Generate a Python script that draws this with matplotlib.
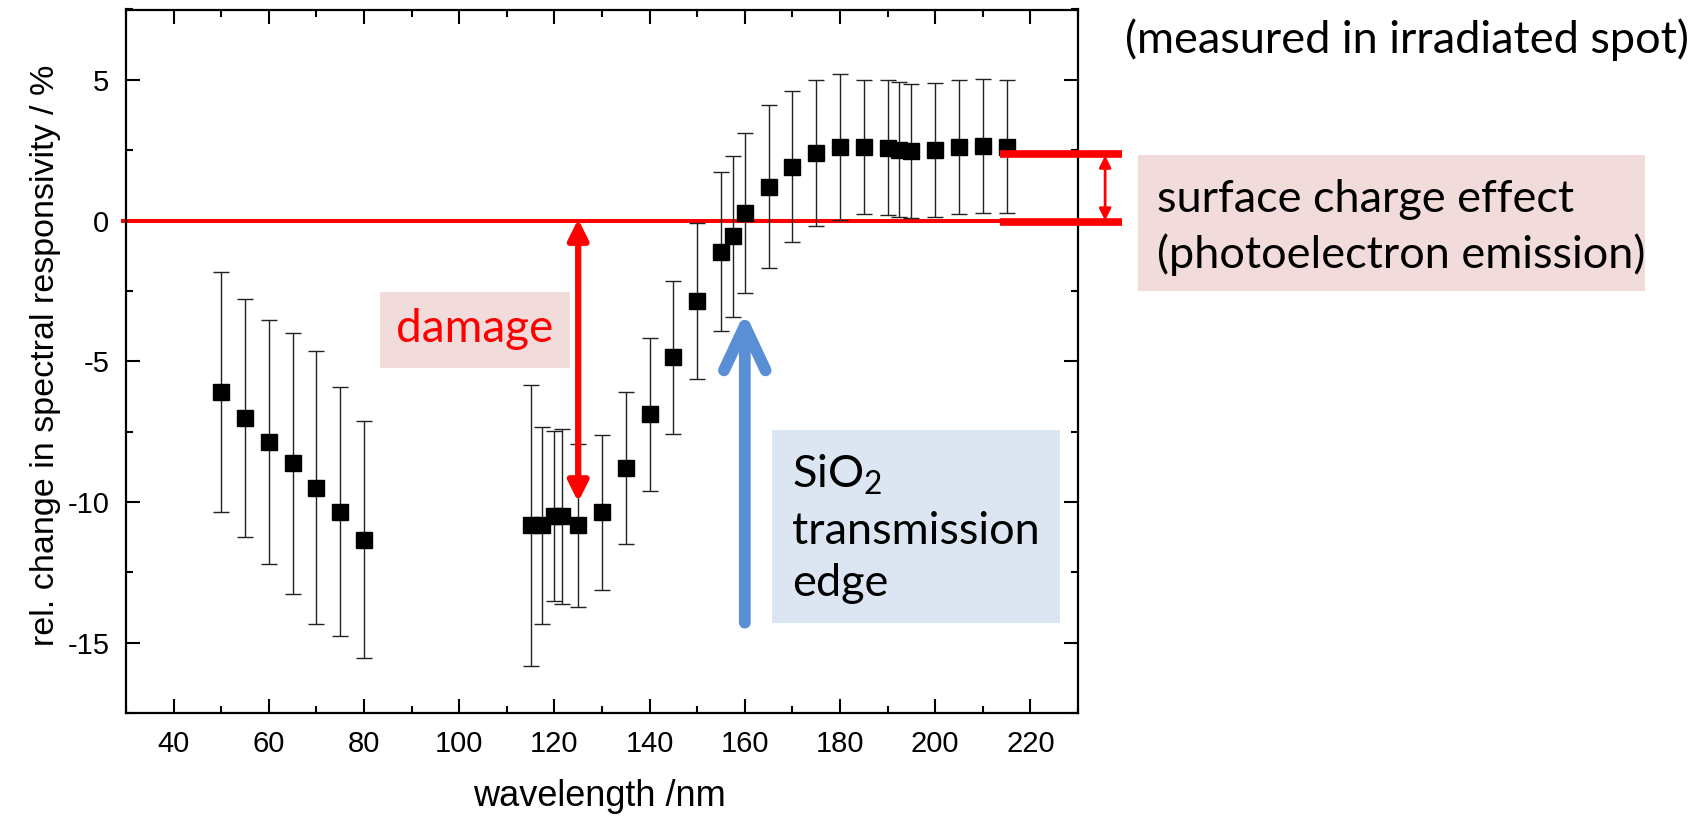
import matplotlib
matplotlib.use("Agg")
import matplotlib.pyplot as plt
from matplotlib.patches import Rectangle, FancyArrowPatch
import numpy as np

# ---- data ----
wavelength = [50, 55, 60, 65, 70, 75, 80,
              115, 117.5, 120, 121.5, 125, 130, 135, 140, 145, 150, 155, 157.5, 160,
              165, 170, 175, 180, 185, 190, 192.5, 195, 200, 205, 210, 215]
change = [-6.1, -7.01, -7.87, -8.62, -9.49, -10.34, -11.34,
          -10.83, -10.83, -10.51, -10.51, -10.83, -10.37, -8.79, -6.88, -4.86, -2.85, -1.10, -0.56, 0.26,
          1.21, 1.92, 2.41, 2.62, 2.62, 2.59, 2.51, 2.48, 2.50, 2.60, 2.65, 2.63]
error = [4.26, 4.23, 4.34, 4.64, 4.86, 4.42, 4.20,
         4.99, 3.50, 3.02, 3.10, 2.90, 2.76, 2.70, 2.72, 2.72, 2.78, 2.82, 2.85, 2.85,
         2.88, 2.68, 2.60, 2.60, 2.39, 2.39, 2.40, 2.39, 2.39, 2.38, 2.38, 2.37]
xticks = [40, 60, 80, 100, 120, 140, 160, 180, 200, 220]
yticks = [5, 0, -5, -10, -15]
surface_level = 2.36
damage_level = -10.0
edge_wavelength = 160

W, H = 1708, 816
plt.rcParams['axes.unicode_minus'] = False
plt.rcParams['mathtext.fontset'] = 'custom'
plt.rcParams['mathtext.rm'] = 'Lato'

fig = plt.figure(figsize=(W / 100, H / 100), dpi=100)
ax = fig.add_axes([126 / W, 1 - 713 / H, 952 / W, 703.5 / H])

def fx(x):
    return x / W

def fy(y):
    return 1 - y / H

ax.set_xlim(30, 230)
ax.set_ylim(-17.5, 7.5)
ax.set_xticks(xticks)
ax.set_xticks(np.arange(30, 231, 10), minor=True)
ax.set_yticks(yticks)
ax.set_yticks(np.arange(-17.5, 7.6, 2.5), minor=True)
ax.set_yticklabels([str(v) for v in yticks])
for s in ax.spines.values():
    s.set_linewidth(1.6)
ax.tick_params(which='both', direction='in', top=True, right=True, width=1.5)
ax.tick_params(which='major', length=10, labelsize=21, pad=12)
ax.tick_params(which='minor', length=5)
for lab in ax.get_xticklabels() + ax.get_yticklabels():
    lab.set_family('Liberation Sans')

ax.set_xlabel('wavelength /nm', fontsize=26, family='Liberation Sans')
ax.xaxis.set_label_coords(0.497, -0.118)
ax.xaxis.label.set_va('center')
ax.set_ylabel('rel. change in spectral responsivity / %', fontsize=24.5, family='Liberation Sans')
ax.yaxis.set_label_coords(-0.085, 0.508)
ax.yaxis.label.set_va('center')

# zero line
ax.plot([29.3, 230], [0, 0], color='#FF0000', lw=2.9, clip_on=False, zorder=2)

# data
ax.errorbar(wavelength, change, yerr=error, fmt='s', color='black', ms=11,
            ecolor='#222222', elinewidth=1.0, capsize=6, capthick=1.0, zorder=3)

# surface charge thick lines
ax.plot([213.6, 239.2], [surface_level, surface_level], color='#FF0000', lw=5.5,
        clip_on=False, zorder=4, solid_capstyle='butt')
ax.plot([213.6, 239.2], [-0.05, -0.05], color='#FF0000', lw=5.5,
        clip_on=False, zorder=4, solid_capstyle='butt')
sa = FancyArrowPatch((235.7, surface_level - 0.05), (235.7, 0.0),
                     arrowstyle='<|-|>,head_length=0.5,head_width=0.25',
                     mutation_scale=14, color='#FF0000', lw=2, clip_on=False,
                     shrinkA=0, shrinkB=0, zorder=5)
ax.add_patch(sa)

# damage arrow
da = FancyArrowPatch((125, 0.05), (125, damage_level),
                     arrowstyle='<|-|>,head_length=0.6,head_width=0.3',
                     mutation_scale=20, color='#FF0000', lw=4.5,
                     shrinkA=0, shrinkB=0, zorder=5)
ax.add_patch(da)

# damage box
fig.patches.append(Rectangle((fx(380), fy(368)), (570 - 380) / W, (368 - 292) / H,
                             transform=fig.transFigure, facecolor='#F2DCDB',
                             edgecolor='none', zorder=1))
fig.text(fx(475), fy(329), 'damage', color='#FF0000', fontsize=33, family='Lato',
         ha='center', va='center')

# blue arrow
ba = FancyArrowPatch((edge_wavelength, -14.29), (edge_wavelength, -3.25),
                     arrowstyle='->,head_length=1.6,head_width=0.75',
                     mutation_scale=20, color='#5A8FD5', lw=8.5,
                     capstyle='round', joinstyle='round',
                     shrinkA=0, shrinkB=0, zorder=5)
ax.add_patch(ba)

# SiO2 box
fig.patches.append(Rectangle((fx(772), fy(623)), (1060 - 772) / W, (623 - 430) / H,
                             transform=fig.transFigure, facecolor='#DCE6F2',
                             edgecolor='none', zorder=1))
fig.text(fx(792), fy(475), r'SiO$_\mathregular{2}$', fontsize=32.5, family='Lato',
         ha='left', va='center', color='black')
fig.text(fx(792), fy(532), 'transmission', fontsize=32.5, family='Lato',
         ha='left', va='center', color='black')
fig.text(fx(792), fy(584), 'edge', fontsize=32.5, family='Lato',
         ha='left', va='center', color='black')

# surface charge box
fig.patches.append(Rectangle((fx(1138), fy(291)), (1645 - 1138) / W, (291 - 155) / H,
                             transform=fig.transFigure, facecolor='#F2DCDB',
                             edgecolor='none', zorder=1))
fig.text(fx(1157), fy(199), 'surface charge effect', fontsize=32.5, family='Lato',
         ha='left', va='center', color='black')
fig.text(fx(1157), fy(255), '(photoelectron emission)', fontsize=32.5, family='Lato',
         ha='left', va='center', color='black')

# top-right note
fig.text(fx(1125), fy(40), '(measured in irradiated spot)', fontsize=32.5, family='Lato',
         ha='left', va='center', color='black')

fig.savefig('out.png', dpi=100)
